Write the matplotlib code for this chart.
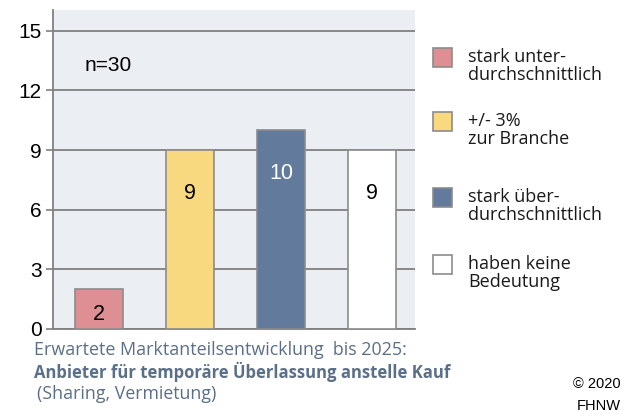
import matplotlib.pyplot as plt
from matplotlib.patches import Rectangle

# data
categories = ['stark unter-\ndurchschnittlich', '+/- 3%\nzur Branche',
              'stark über-\ndurchschnittlich', 'haben keine\nBedeutung']
values = [2, 9, 10, 9]
colors = ['#de8f94', '#f8d97f', '#627a9b', '#ffffff']
label_colors = ['black', 'black', 'white', 'black']
yticks = [0, 3, 6, 9, 12, 15]

fig = plt.figure(figsize=(6.31, 4.16), dpi=100)
ax = fig.add_axes([53 / 631, 1 - 329 / 416, 362 / 631, 319 / 416])
ax.set_facecolor('#ebeef2')

x = list(range(len(values)))
ax.bar(x, values, width=0.53, color=colors, edgecolor='#8c8c8c', linewidth=1.2, zorder=3)
ax.set_xlim(-0.505, 3.47)
ax.set_ylim(0, 16.05)
ax.set_xticks([])
ax.set_yticks(yticks)
ax.set_yticklabels([str(t) for t in yticks], fontsize=15, family='Liberation Sans')
ax.yaxis.grid(True, color='#808080', linewidth=1.3, zorder=1)
ax.tick_params(axis='y', length=5, width=1.2, color='#808080', pad=3)
for s in ['top', 'right']:
    ax.spines[s].set_visible(False)
for s in ['left', 'bottom']:
    ax.spines[s].set_color('#808080')
    ax.spines[s].set_linewidth(1.3)

# value labels inside the bars
for xi, v, c in zip(x, values, label_colors):
    ty = v - 2.2 if v > 3 else v / 2 - 0.25
    ax.text(xi, ty, str(v), ha='center', va='center', fontsize=15.5,
            family='Liberation Sans', color=c, zorder=4)

ax.text(0.088, 0.826, 'n=30', transform=ax.transAxes, ha='left', va='center',
        fontsize=15, family='Liberation Sans')

# legend
leg_y = [57, 121, 197, 264]
for yc, col, lab in zip(leg_y, colors, categories):
    fig.add_artist(Rectangle((433 / 631, 1 - (yc + 9.5) / 416), 19 / 631, 19 / 416,
                             facecolor=col, edgecolor='#8c8c8c', linewidth=1.2,
                             transform=fig.transFigure))
    l1, l2 = lab.split('\n')
    fig.text(468 / 631, 1 - (yc - 2) / 416, l1, ha='left', va='center_baseline',
             fontsize=13, family='Open Sans', color='#1a1a1a')
    fig.text(468 / 631, 1 - (yc + 16) / 416, l2, ha='left', va='center_baseline',
             fontsize=13, family='Open Sans', color='#1a1a1a')

# caption
cap_col = '#5b6f88'
fig.text(34 / 631, 1 - 348 / 416, 'Erwartete Marktanteilsentwicklung  bis 2025:',
         ha='left', va='center_baseline', fontsize=12.9, family='Open Sans', color=cap_col)
fig.text(34 / 631, 1 - 370 / 416, 'Anbieter für temporäre Überlassung anstelle Kauf',
         ha='left', va='center_baseline', fontsize=12, family='Open Sans', weight='bold',
         color=cap_col)
fig.text(37 / 631, 1 - 392 / 416, '(Sharing, Vermietung)',
         ha='left', va='center_baseline', fontsize=12.8, family='Open Sans', color=cap_col)
fig.text(621 / 631, 1 - 384 / 416, '© 2020', ha='right', va='center',
         fontsize=10.5, family='Liberation Sans')
fig.text(621 / 631, 1 - 406 / 416, 'FHNW', ha='right', va='center',
         fontsize=10.5, family='Liberation Sans')

fig.savefig('out.png', dpi=100)
